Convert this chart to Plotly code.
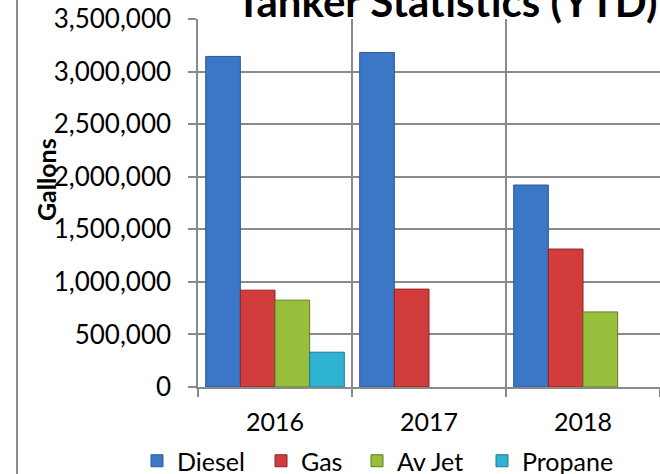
import plotly.graph_objects as go

years = ["2016", "2017", "2018"]
diesel = [3144000, 3182000, 1921000]
gas = [921000, 931000, 1312000]
av_jet = [826000, None, 714000]
propane = [331000, None, None]

series = [
    ("Diesel", diesel, "#3b77c6", "#2a5a9a"),
    ("Gas", gas, "#d23c3c", "#8e2323"),
    ("Av Jet", av_jet, "#97bf3c", "#5f7d22"),
    ("Propane", propane, "#2fb3d3", "#1d7a92"),
]

W, H = 660, 474
L, R, T, B = 198, 0, 19, 87
pw = W - L - R
ph = H - T - B

def px_x(p):
    return (p - L) / pw

def px_y(p):
    return (H - B - p) / ph

FONT = "Lato, 'Open Sans', sans-serif"
GRID = "#8a8a8a"
legend_text_x = [177, 301, 397, 522]
legend_ids = ["legend", "legend2", "legend3", "legend4"]

fig = go.Figure()
for (name, vals, col, edge), lid in zip(series, legend_ids):
    fig.add_trace(go.Bar(
        name=name, x=years, y=vals, legend=lid,
        marker=dict(color=col, line=dict(color=edge, width=1)),
    ))

legend_layout = {}
for lid, tx in zip(legend_ids, legend_text_x):
    legend_layout[lid] = dict(
        orientation="h", x=px_x(tx - 40), y=px_y(461), xanchor="left", yanchor="middle",
        font=dict(size=25, family=FONT, color="black"), bgcolor="rgba(0,0,0,0)",
        borderwidth=0,
    )

fig.update_layout(
    template="none",
    width=W, height=H,
    margin=dict(l=L, r=R, t=T, b=B, pad=0, autoexpand=False),
    paper_bgcolor="white", plot_bgcolor="white",
    barmode="group", bargap=0.1, bargroupgap=0,
    font=dict(family=FONT, color="black", size=25),
    showlegend=True,
    xaxis=dict(
        type="category", tickson="boundaries", showgrid=True, gridcolor=GRID, gridwidth=1.5,
        ticks="outside", ticklen=8, tickcolor=GRID, tickwidth=1.5,
        showline=True, linecolor=GRID, linewidth=1.5, automargin=False,
        tickfont=dict(size=25, family=FONT), ticklabelstandoff=12,
        range=[-0.5, 2.5],
    ),
    yaxis=dict(
        range=[0, 3500000], dtick=500000, tickformat=",d",
        showgrid=True, gridcolor=GRID, gridwidth=1.5,
        ticks="outside", ticklen=8, tickcolor=GRID, tickwidth=1.5,
        showline=True, linecolor=GRID, linewidth=1.5, automargin=False,
        tickfont=dict(size=26, family=FONT), zeroline=False,
        ticklabelstandoff=12,
    ),
    **legend_layout,
)

fig.add_annotation(
    text="<b>Tanker Statistics (YTD)</b>", xref="paper", yref="paper",
    x=px_x(447), y=px_y(1), xanchor="center", yanchor="middle",
    showarrow=False, font=dict(size=42, family=FONT, color="black"),
)
fig.add_annotation(
    text="<b>Gallons</b>", xref="paper", yref="paper",
    x=px_x(46), y=px_y(180), xanchor="center", yanchor="middle", textangle=-90,
    showarrow=False, font=dict(size=25, family=FONT, color="black"),
)
fig.add_shape(
    type="line", xref="paper", yref="paper",
    x0=px_x(17), x1=px_x(17), y0=px_y(-5), y1=px_y(480),
    line=dict(color=GRID, width=2),
)

fig.write_html(
    "out.html",
    config={"displayModeBar": False},
    post_script="document.body.style.margin='0';document.body.style.padding='0';",
)
